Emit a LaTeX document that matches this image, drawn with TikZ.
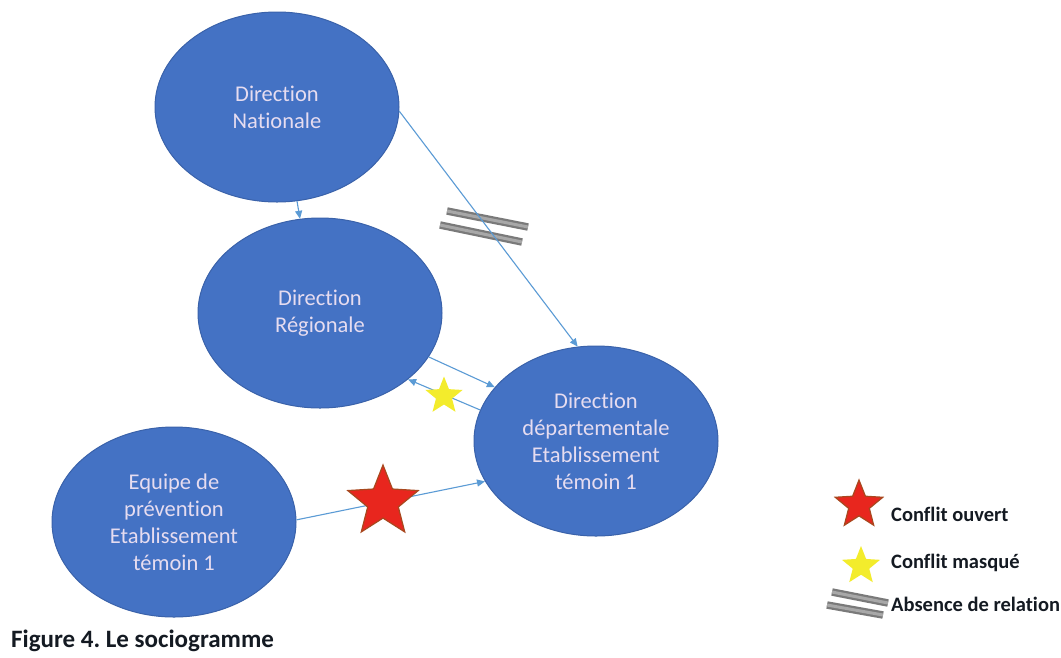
\documentclass[tikz,border=0pt]{standalone}
\usepackage{fontspec}
\setmainfont[Ligatures=NoCommon]{Carlito}
\usetikzlibrary{shapes.geometric,arrows.meta}
\definecolor{nodeblue}{HTML}{4472C4}
\definecolor{nodeedge}{HTML}{3A62AA}
\definecolor{nodetext}{RGB}{230,220,240}
\definecolor{linkblue}{HTML}{5B9BD5}
\definecolor{starred}{HTML}{E8261E}
\definecolor{staredge}{HTML}{A8481E}
\definecolor{staryellow}{HTML}{F3EC2C}
\definecolor{bargray}{HTML}{7A7A7A}
\definecolor{barlight}{HTML}{A8A8A8}
\definecolor{legendtext}{HTML}{141A22}
\frenchspacing
\begin{document}
\begin{tikzpicture}[x=1pt,y=-1pt,
  actor/.style={ellipse, fill=nodeblue, draw=nodeedge, line width=1pt,
    minimum width=244pt, minimum height=190pt, inner sep=0pt,
    text=nodetext, align=center, font=\fontsize{22.5}{27}\selectfont},
  link/.style={draw=linkblue, line width=1.1pt, -{Triangle[length=8pt,width=7pt]}},
  conflictstar/.style={star, star points=5, star point ratio=2.3, inner sep=0pt},
  openstar/.style={conflictstar, fill=starred, draw=staredge, line width=1.2pt},
  hiddenstar/.style={conflictstar, fill=staryellow, draw=none},
  barouter/.style={draw=bargray, line width=7.5pt},
  barinner/.style={draw=barlight, line width=3pt},
  legend/.style={anchor=base west, text=legendtext, inner sep=0pt,
    font=\bfseries\fontsize{20.5}{24}\selectfont}]
\useasboundingbox (0,0) rectangle (1061,657);
\fill[white] (0,0) rectangle (1061,657);

% absence-of-relation bars (main)
\draw[barouter] (447,211) -- (528,227);
\draw[barinner] (447,211) -- (528,227);
\draw[barouter] (440,225) -- (522,242);
\draw[barinner] (440,225) -- (522,242);

% actors
\node[actor] (dn) at (277,107) {Direction\\Nationale};
\node[actor] (dr) at (320,313) {Direction\\Régionale};
\node[actor] (dd) at (596,441) {Direction\\départementale\\Etablissement\\témoin 1};
\node[actor] (eq) at (174,522) {Equipe de\\prévention\\Etablissement\\témoin 1};

% relations
\draw[link] (dn.-2) -- (dd.101);
\draw[link] (dn.-78) -- (dr.102);
\draw[link] (dr.-22) -- (dd.152);
\draw[link] (dd.165) -- (dr.-37);
\draw[link] (eq.1) -- (dd.200);

% conflict markers
\node[openstar, minimum size=74pt] (open1) at (383,502) {};
\node[hiddenstar, minimum size=39pt] (hidden1) at (444,396) {};

% legend
\node[openstar, minimum size=50pt] (lopenstar) at (859,505) {};
\node[legend] (lopen) at (891,521.6) {Conflit ouvert};
\node[hiddenstar, minimum size=40pt] (lhiddenstar) at (861,566) {};
\node[legend] (lhidden) at (891,568.3) {Conflit masqué};
\draw[barouter] (832,592) -- (888,603);
\draw[barinner] (832,592) -- (888,603);
\draw[barouter] (827,605) -- (883,615);
\draw[barinner] (827,605) -- (883,615);
\node[legend] (labsent) at (891,611.6) {Absence de relation};

% caption
\node[anchor=base west, inner sep=0pt, text=legendtext,
  font=\bfseries\fontsize{25}{29}\selectfont] (caption) at (11,647) {Figure 4. Le sociogramme};
\end{tikzpicture}
\end{document}
